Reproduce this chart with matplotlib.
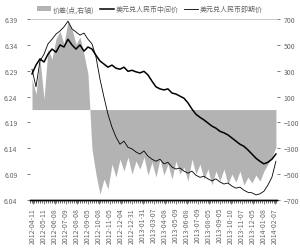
import numpy as np
import matplotlib
matplotlib.use("Agg")
import matplotlib.pyplot as plt

plt.rcParams['font.family'] = ['Noto Sans CJK SC', 'DejaVu Sans']

# 美元兑人民币中间价 (left axis)
mid_rate = [6.284, 6.301, 6.313, 6.307, 6.322, 6.332, 6.326, 6.340, 6.336, 6.351,
            6.340, 6.332, 6.340, 6.328, 6.336, 6.332, 6.320, 6.309, 6.303, 6.297,
            6.301, 6.295, 6.293, 6.297, 6.289, 6.291, 6.288, 6.286, 6.289, 6.282,
            6.270, 6.259, 6.255, 6.253, 6.255, 6.247, 6.245, 6.241, 6.237, 6.228,
            6.216, 6.206, 6.200, 6.195, 6.189, 6.183, 6.179, 6.173, 6.170, 6.166,
            6.160, 6.154, 6.148, 6.144, 6.137, 6.129, 6.121, 6.115, 6.110, 6.113,
            6.119, 6.129]

# 美元兑人民币即期价 (left axis)
spot_rate = [6.293, 6.259, 6.309, 6.322, 6.342, 6.351, 6.361, 6.367, 6.375, 6.386,
             6.371, 6.365, 6.359, 6.363, 6.351, 6.342, 6.317, 6.274, 6.239, 6.206,
             6.181, 6.162, 6.148, 6.154, 6.142, 6.139, 6.133, 6.129, 6.135, 6.125,
             6.119, 6.115, 6.119, 6.110, 6.113, 6.104, 6.100, 6.102, 6.096, 6.092,
             6.096, 6.088, 6.084, 6.086, 6.081, 6.077, 6.081, 6.075, 6.071, 6.073,
             6.067, 6.063, 6.065, 6.059, 6.055, 6.054, 6.050, 6.052, 6.057, 6.069,
             6.084, 6.115]

# 价差 (点, right axis)
spread = [236, 120, 391, 81, 468, 391, 545, 607, 507, 685,
          623, 507, 561, 429, 275, -306, -499, -654, -538, -615,
          -422, -522, -383, -476, -367, -499, -398, -460, -367, -507,
          -406, -522, -383, -507, -422, -538, -398, -499, -445, -553,
          -383, -499, -422, -538, -460, -584, -476, -553, -460, -576,
          -499, -561, -476, -584, -522, -568, -507, -553, -476, -422,
          -367, -290]

date_labels = ["2012-04-11", "2012-05-11", "2012-06-08", "2012-07-09", "2012-08-08",
               "2012-09-05", "2012-10-08", "2012-11-05", "2012-12-04", "2012-12-31",
               "2013-01-31", "2013-03-07", "2013-04-08", "2013-05-09", "2013-06-08",
               "2013-07-09", "2013-08-05", "2013-09-05", "2013-10-10", "2013-11-07",
               "2013-12-05", "2014-01-08", "2014-02-07"]

x = np.arange(len(mid_rate))

fig = plt.figure(figsize=(3.0, 2.51), dpi=100)
ax = fig.add_axes([0.10, 0.199, 0.823, 0.721])
ax2 = ax.twinx()

# spread area behind the lines
ax2.fill_between(x, 0, spread, color='#b3b3b3', linewidth=0, label='价差(点,右轴)')
ax2.set_ylim(-700, 700)
ax2.set_yticks([700, 500, 300, 100, -100, -300, -500, -700])
ax.set_zorder(ax2.get_zorder() + 1)
ax.patch.set_visible(False)

ax.plot(x, mid_rate, color='black', lw=1.1, label='美元兑人民币中间价')
ax.plot(x, spot_rate, color='black', lw=0.6, label='美元兑人民币即期价')
ax.set_ylim(6.04, 6.39)
ax.set_yticks([6.39, 6.34, 6.29, 6.24, 6.19, 6.14, 6.09, 6.04])
ax.set_xlim(-0.5, 61.25)

ax.set_xticks(np.linspace(0.25, 60.75, len(date_labels)))
ax.set_xticklabels(date_labels, rotation=90)
ax.set_xticks(np.arange(-0.5, 61.5, 0.5), minor=True)

for a in (ax, ax2):
    for s in ('left', 'right'):
        a.spines[s].set_visible(False)
    a.spines['top'].set_color('#c8c8c8')
    a.spines['top'].set_linewidth(0.6)
    a.spines['bottom'].set_color('black')
    a.spines['bottom'].set_linewidth(1.0)

ax.tick_params(axis='y', labelsize=5, colors='#666666', length=2, width=0.6, pad=7)
ax2.tick_params(axis='y', labelsize=5, colors='#666666', length=2, width=0.6, pad=3)
ax.tick_params(axis='x', which='major', labelsize=5, colors='#666666', length=3, width=0.6, pad=2)
ax.tick_params(axis='x', which='minor', length=2, width=0.4, color='black')
ax2.tick_params(axis='x', which='both', length=0)

h1, l1 = ax2.get_legend_handles_labels()
h2, l2 = ax.get_legend_handles_labels()
fig.legend(h1 + h2, l1 + l2, loc='upper center', bbox_to_anchor=(0.5, 1.0), ncol=3,
           fontsize=5, frameon=False, handlelength=2.0, handletextpad=0.3,
           columnspacing=0.8, labelcolor='#666666')

fig.savefig('out.png', dpi=100)
